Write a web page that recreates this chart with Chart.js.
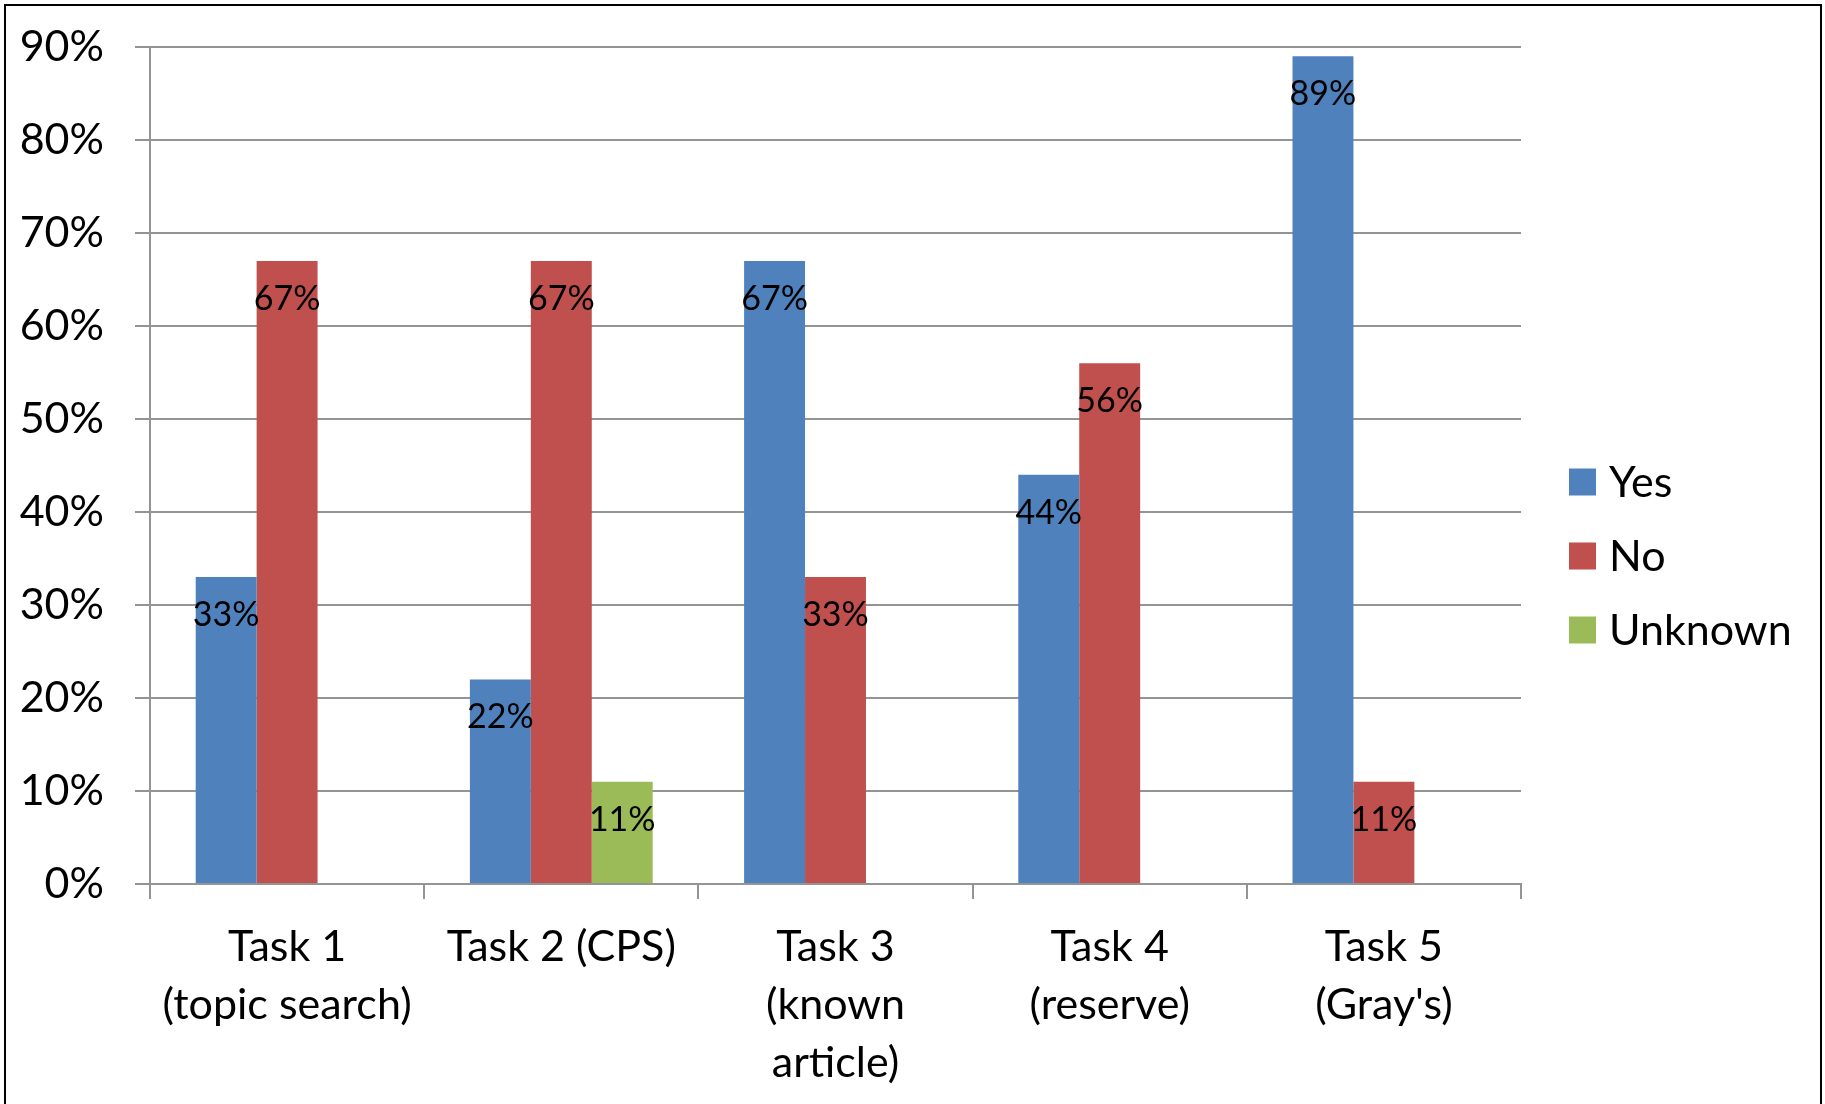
<!DOCTYPE html>
<html>
<head>
<meta charset="utf-8">
<title>Task results</title>
<script src="https://cdn.jsdelivr.net/npm/chart.js@4.4.1/dist/chart.umd.min.js"></script>
<style>
  html, body { margin: 0; padding: 0; background: #fff; }
  #wrap { width: 1825px; height: 1104px; position: relative; }
</style>
</head>
<body>
<div id="wrap"><canvas id="taskChart"></canvas></div>
<script>
// Categories (multi-line labels)
const taskLabels = [
  ["Task 1", "(topic search)"],
  ["Task 2 (CPS)"],
  ["Task 3", "(known", "article)"],
  ["Task 4", "(reserve)"],
  ["Task 5", "(Gray's)"],
];

// Series values, in percent
const yesValues = [33, 22, 67, 44, 89];
const noValues = [67, 67, 33, 56, 11];
const unknownValues = [null, 11, null, null, null];

// Y axis ticks
const yTicks = [0, 10, 20, 30, 40, 50, 60, 70, 80, 90];

const FONT = "Lato, 'Open Sans', sans-serif";
const GRID = "#949494";

// White background + black frame
const framePlugin = {
  id: "frame",
  beforeDraw(chart) {
    const c = chart.ctx;
    c.save();
    c.fillStyle = "#fff";
    c.fillRect(0, 0, chart.width, chart.height);
    c.strokeStyle = "#000";
    c.lineWidth = 2;
    c.strokeRect(5, 5, chart.width - 9, chart.height + 20);
    c.restore();
  },
};

// Percent labels just inside the top of each bar
const barLabelPlugin = {
  id: "barLabels",
  afterDatasetsDraw(chart) {
    const c = chart.ctx;
    c.save();
    c.font = `34px ${FONT}`;
    c.fillStyle = "#000";
    c.textAlign = "center";
    c.textBaseline = "middle";
    chart.data.datasets.forEach((ds, i) => {
      const meta = chart.getDatasetMeta(i);
      meta.data.forEach((bar, j) => {
        const v = ds.data[j];
        if (v === null || v === undefined) return;
        c.fillText(`${v}%`, bar.x, bar.y + 38);
      });
    });
    c.restore();
  },
};

// Legend on the right, square swatches
const sideLegendPlugin = {
  id: "sideLegend",
  afterDraw(chart) {
    const c = chart.ctx;
    const area = chart.chartArea;
    const box = 27;
    const step = 74;
    const n = chart.data.datasets.length;
    const x0 = area.right + 48;
    const yMid = chart.height / 2 + 4;
    c.save();
    c.font = `43px ${FONT}`;
    c.textBaseline = "middle";
    c.textAlign = "left";
    chart.data.datasets.forEach((ds, i) => {
      const cy = yMid + (i - (n - 1) / 2) * step;
      c.fillStyle = ds.backgroundColor;
      c.fillRect(x0, cy - box / 2, box, box);
      c.fillStyle = "#000";
      c.fillText(ds.label, x0 + box + 13, cy + 1);
    });
    c.restore();
  },
};

function buildChart() {
  Chart.defaults.font.family = FONT;
  Chart.defaults.color = "#000";

  const ctx = document.getElementById("taskChart").getContext("2d");
  new Chart(ctx, {
    type: "bar",
    data: {
      labels: taskLabels,
      datasets: [
        { label: "Yes", data: yesValues, backgroundColor: "#4F81BD" },
        { label: "No", data: noValues, backgroundColor: "#C0504D" },
        { label: "Unknown", data: unknownValues, backgroundColor: "#9BBB59" },
      ],
    },
    options: {
      responsive: true,
      maintainAspectRatio: false,
      animation: false,
      layout: { padding: { left: 0, top: 47, right: 304, bottom: 0 } },
      datasets: {
        bar: { categoryPercentage: 2 / 3, barPercentage: 1.0, borderWidth: 0 },
      },
      plugins: {
        legend: { display: false },
        tooltip: { enabled: false },
      },
      scales: {
        x: {
          grid: {
            offset: true,
            drawOnChartArea: false,
            drawTicks: true,
            tickLength: 15,
            color: GRID,
            lineWidth: 2,
          },
          border: { display: true, color: GRID, width: 2 },
          ticks: {
            font: { size: 43, lineHeight: 1.35 },
            color: "#000",
            padding: 19,
            autoSkip: false,
            maxRotation: 0,
          },
          afterFit: (scale) => { scale.height = 220; },
        },
        y: {
          min: yTicks[0],
          max: yTicks[yTicks.length - 1],
          afterBuildTicks: (scale) => {
            scale.ticks = yTicks.map((v) => ({ value: v }));
          },
          grid: {
            color: GRID,
            lineWidth: 2,
            drawTicks: true,
            tickLength: 15,
          },
          border: { display: true, color: GRID, width: 2 },
          ticks: {
            font: { size: 43, lineHeight: 0.7 },
            color: "#000",
            padding: 31,
            callback: (v) => `${v}%`,
          },
          afterFit: (scale) => { scale.width = 150; },
        },
      },
    },
    plugins: [framePlugin, barLabelPlugin, sideLegendPlugin],
  });
}

document.addEventListener("DOMContentLoaded", () => {
  const ready = document.fonts && document.fonts.load
    ? document.fonts.load(`43px Lato`).catch(() => null)
    : Promise.resolve();
  ready.then(buildChart);
});
</script>
</body>
</html>
